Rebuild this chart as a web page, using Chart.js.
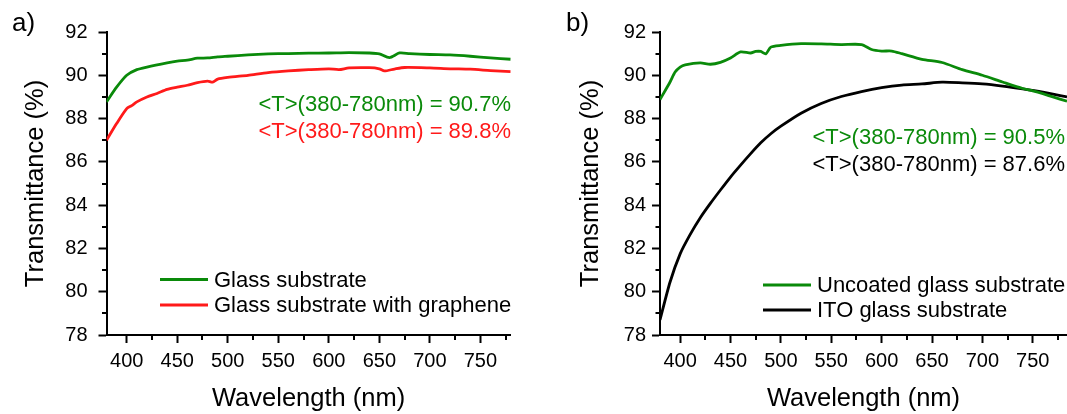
<!DOCTYPE html>
<html>
<head>
<meta charset="utf-8">
<script src="https://cdn.jsdelivr.net/npm/chart.js@4.4.0/dist/chart.umd.min.js"></script>
<style>
  body { margin: 0; background: #fff; }
  #wrap { position: relative; width: 1067px; height: 414px; overflow: hidden; }
  canvas { position: absolute; top: 0; }
</style>
</head>
<body>
<div id="wrap">
  <canvas id="chartA" width="560" height="414" style="left:0"></canvas>
  <canvas id="chartB" width="507" height="414" style="left:560px"></canvas>
</div>
<script>
// panel a) data
const wlGlassA = [380, 390, 400, 410, 420, 440, 450, 460, 470, 480, 490, 500, 520, 540, 550, 560, 580, 600, 620, 640, 650, 660, 670, 680, 700, 720, 740, 760, 780];
const glassA   = [88.77, 89.45, 90.0, 90.26, 90.38, 90.57, 90.65, 90.7, 90.79, 90.8, 90.85, 90.88, 90.94, 90.99, 91.0, 91.0, 91.02, 91.03, 91.05, 91.03, 90.99, 90.82, 91.03, 91.0, 90.96, 90.94, 90.88, 90.8, 90.74];
const wlGrapheneA = [380, 390, 400, 405, 410, 420, 430, 440, 450, 460, 470, 480, 485, 490, 500, 520, 540, 560, 580, 600, 610, 620, 640, 650, 655, 665, 675, 700, 720, 740, 760, 780];
const grapheneA   = [87.0, 87.77, 88.46, 88.6, 88.77, 89.0, 89.16, 89.35, 89.45, 89.54, 89.66, 89.73, 89.68, 89.82, 89.9, 90.0, 90.12, 90.2, 90.26, 90.3, 90.26, 90.34, 90.35, 90.3, 90.2, 90.29, 90.36, 90.34, 90.3, 90.28, 90.22, 90.17];

// panel b) data
const wlUncoatedB = [380, 390, 395, 400, 405, 420, 430, 440, 450, 460, 470, 475, 480, 485, 490, 500, 520, 540, 560, 580, 590, 600, 610, 620, 640, 660, 680, 700, 720, 740, 750, 760, 770, 784];
const uncoatedB   = [88.88, 89.69, 90.15, 90.38, 90.48, 90.57, 90.51, 90.6, 90.8, 91.08, 91.03, 91.1, 91.1, 90.99, 91.3, 91.38, 91.46, 91.45, 91.42, 91.42, 91.19, 91.12, 91.12, 91.0, 90.74, 90.59, 90.26, 90.0, 89.69, 89.39, 89.28, 89.15, 89.0, 88.8];
const wlItoB = [380, 390, 400, 410, 420, 430, 440, 450, 460, 470, 480, 490, 500, 520, 540, 560, 580, 600, 620, 640, 660, 680, 700, 720, 740, 760, 784];
const itoB   = [78.7, 80.45, 81.75, 82.65, 83.42, 84.08, 84.7, 85.3, 85.85, 86.38, 86.88, 87.3, 87.65, 88.25, 88.7, 89.02, 89.25, 89.43, 89.55, 89.6, 89.68, 89.65, 89.6, 89.5, 89.37, 89.22, 89.0];

const yMajorTicks = [78, 80, 82, 84, 86, 88, 90, 92];
const yMinorTicks = [79, 81, 83, 85, 87, 89, 91];
const xMajorTicks = [400, 450, 500, 550, 600, 650, 700, 750];
const xMinorTicks = [425, 475, 525, 575, 625, 675, 725, 775];

const FONT = "'Liberation Sans', Arial, sans-serif";
const GREEN = '#0a8a0a';
const RED = '#ff1a1a';
const BLACK = '#000000';

function toPoints(xs, ys) {
    return xs.map((x, i) => ({ x: x, y: ys[i] }));
}

// minor ticks, panel label, legend and mean values
const decorPlugin = {
    id: 'decor',
    afterDraw(chart, args, opts) {
        const ctx = chart.ctx;
        const area = chart.chartArea;
        const xs = chart.scales.x;
        const ys = chart.scales.y;
        ctx.save();
        ctx.strokeStyle = '#000';
        ctx.lineWidth = 2;
        ctx.beginPath();
        yMinorTicks.forEach(v => {
            const py = Math.round(ys.getPixelForValue(v));
            ctx.moveTo(area.left, py);
            ctx.lineTo(area.left - 4.5, py);
        });
        xMinorTicks.forEach(v => {
            if (v > xs.max) return;
            const px = Math.round(xs.getPixelForValue(v));
            ctx.moveTo(px, area.bottom);
            ctx.lineTo(px, area.bottom + 5);
        });
        ctx.stroke();

        ctx.fillStyle = '#000';
        ctx.font = '26px ' + FONT;
        ctx.textAlign = 'left';
        ctx.textBaseline = 'alphabetic';
        ctx.fillText(opts.label, opts.labelX, 31);

        ctx.font = '22px ' + FONT;
        ctx.textBaseline = 'middle';
        opts.notes.forEach(n => {
            ctx.fillStyle = n.color;
            ctx.textAlign = 'right';
            ctx.fillText(n.text, opts.noteX, n.y);
        });

        chart.data.datasets.forEach((ds, i) => {
            const y = opts.legendY[i];
            ctx.strokeStyle = ds.borderColor;
            ctx.lineWidth = 3;
            ctx.beginPath();
            ctx.moveTo(opts.legendX, y);
            ctx.lineTo(opts.legendX + 48, y);
            ctx.stroke();
            ctx.fillStyle = '#000';
            ctx.textAlign = 'left';
            ctx.fillText(ds.label, opts.legendX + 54, y + 1);
        });
        ctx.restore();
    }
};

function makeChart(id, datasets, xMax, yWidth, yTitlePad, yTickPad, rightPad, decor) {
    return new Chart(document.getElementById(id), {
        type: 'line',
        data: { datasets: datasets },
        plugins: [decorPlugin],
        options: {
            responsive: false,
            animation: false,
            devicePixelRatio: 1,
            layout: { padding: { top: 32, right: rightPad, bottom: 0, left: 0 } },
            elements: {
                point: { radius: 0 },
                line: { borderWidth: 2.8, tension: 0.25 }
            },
            plugins: {
                legend: { display: false },
                tooltip: { enabled: false },
                decor: decor
            },
            scales: {
                x: {
                    type: 'linear',
                    min: 380,
                    max: xMax,
                    afterBuildTicks: s => { s.ticks = xMajorTicks.map(v => ({ value: v })); },
                    afterFit: s => { s.height = 79; },
                    grid: { drawOnChartArea: false, drawTicks: true, tickLength: 8, tickWidth: 2, tickColor: '#000' },
                    border: { display: true, color: '#000', width: 2 },
                    ticks: { color: '#000', font: { family: FONT, size: 20 }, padding: 6, maxRotation: 0 },
                    title: {
                        display: true, text: 'Wavelength (nm)', color: '#000',
                        font: { family: FONT, size: 25.5 }, padding: { top: 0, bottom: 0 }
                    }
                },
                y: {
                    min: 78,
                    max: 92,
                    afterBuildTicks: s => { s.ticks = yMajorTicks.map(v => ({ value: v })); },
                    afterFit: s => { s.width = yWidth; },
                    grid: { drawOnChartArea: false, drawTicks: true, tickLength: 8, tickWidth: 2, tickColor: '#000' },
                    border: { display: true, color: '#000', width: 2 },
                    ticks: { color: '#000', font: { family: FONT, size: 20 }, padding: yTickPad },
                    title: {
                        display: true, text: 'Transmittance (%)', color: '#000',
                        font: { family: FONT, size: 25.5 }, padding: { top: yTitlePad, bottom: 0 }
                    }
                }
            }
        }
    });
}

makeChart('chartA', [
    { label: 'Glass substrate', data: toPoints(wlGlassA, glassA), borderColor: GREEN },
    { label: 'Glass substrate with graphene', data: toPoints(wlGrapheneA, grapheneA), borderColor: RED }
], 780, 106.5, 20.4, 11, 49.3, {
    label: 'a)', labelX: 12,
    noteX: 511,
    notes: [
        { text: '<T>(380-780nm) = 90.7%', color: GREEN, y: 104.5 },
        { text: '<T>(380-780nm) = 89.8%', color: RED, y: 131.7 }
    ],
    legendX: 160, legendY: [279.5, 305]
});

makeChart('chartB', [
    { label: 'Uncoated glass substrate', data: toPoints(wlUncoatedB, uncoatedB), borderColor: GREEN },
    { label: 'ITO glass substrate', data: toPoints(wlItoB, itoB), borderColor: BLACK }
], 784, 100, 15.7, 6, 0, {
    label: 'b)', labelX: 6,
    noteX: 505,
    notes: [
        { text: '<T>(380-780nm) = 90.5%', color: GREEN, y: 138.3 },
        { text: '<T>(380-780nm) = 87.6%', color: BLACK, y: 165 }
    ],
    legendX: 203, legendY: [285, 310]
});
</script>
</body>
</html>
